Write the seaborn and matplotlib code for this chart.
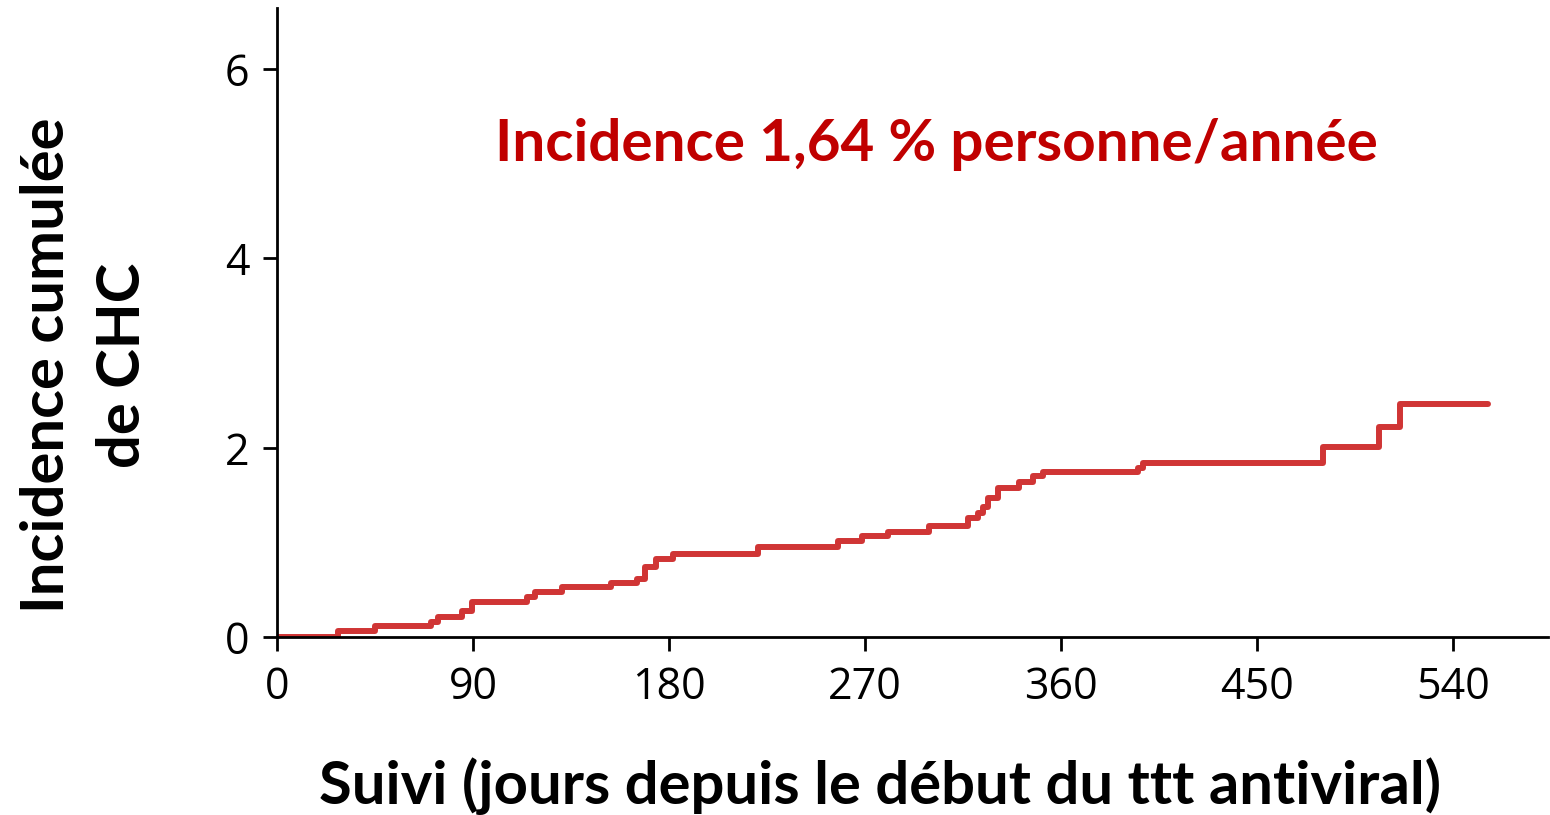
import matplotlib
matplotlib.use("Agg")
import matplotlib.pyplot as plt
import seaborn as sns
import pandas as pd

# step times (days) and cumulative incidence (%)
jours = [0, 27.6, 44.6, 70.4, 73.6, 84.6, 89.2, 114.5, 118.2, 130.6, 153.2,
         165.1, 169.0, 174.0, 181.7, 220.8, 257.6, 268.6, 280.6, 299.4, 317.4,
         322.0, 324.3, 326.6, 331.2, 340.8, 347.3, 351.9, 395.6, 397.9, 480.2,
         506.0, 515.6, 556.1]
incidence = [0, 0.07, 0.12, 0.16, 0.21, 0.28, 0.37, 0.43, 0.48, 0.53, 0.57,
             0.62, 0.74, 0.83, 0.88, 0.95, 1.02, 1.07, 1.11, 1.18, 1.26,
             1.31, 1.38, 1.47, 1.58, 1.64, 1.70, 1.74, 1.79, 1.84, 2.01,
             2.22, 2.46, 2.46]
xticks = [0, 90, 180, 270, 360, 450, 540]
yticks = [0, 2, 4, 6]
annotation = "Incidence 1,64 % personne/année"

sns.set_style("ticks")
plt.rcParams['font.family'] = ['Open Sans', 'DejaVu Sans']
plt.rcParams['text.color'] = 'black'
plt.rcParams['axes.labelcolor'] = 'black'

df = pd.DataFrame({"jours": jours, "incidence": incidence})

fig = plt.figure(figsize=(15.5, 8.15), dpi=100)
ax = fig.add_axes([0.179, 0.218, 0.82, 0.772])
sns.lineplot(data=df, x="jours", y="incidence", ax=ax, drawstyle="steps-post",
             color="#d03535", linewidth=4.3, sort=False)

ax.set_xlim(0, 584)
ax.set_ylim(0, 6.64)
ax.set_xticks(xticks)
ax.set_yticks(yticks)
ax.tick_params(labelsize=31, length=10, width=2, colors="black")
ax.tick_params(axis="x", pad=10)
ax.tick_params(axis="y", pad=10)
for s in ["top", "right"]:
    ax.spines[s].set_visible(False)
for s in ["left", "bottom"]:
    ax.spines[s].set_linewidth(2)
    ax.spines[s].set_color("black")

ax.set_xlabel("Suivi (jours depuis le début du ttt antiviral)", fontsize=43,
              fontweight="bold", family=["Lato", "DejaVu Sans"])
ax.set_ylabel("Incidence cumulée\nde CHC", fontsize=43, fontweight="bold",
              family=["Lato", "DejaVu Sans"], linespacing=1.5)
ax.xaxis.set_label_coords(0.474, -0.19)
ax.yaxis.set_label_coords(-0.100, 0.432)
ax.text(303, 5.2, annotation, color="#c00000", fontsize=42, fontweight="bold",
        family=["Lato", "DejaVu Sans"], ha="center", va="center")

plt.savefig("out.png", dpi=100)
